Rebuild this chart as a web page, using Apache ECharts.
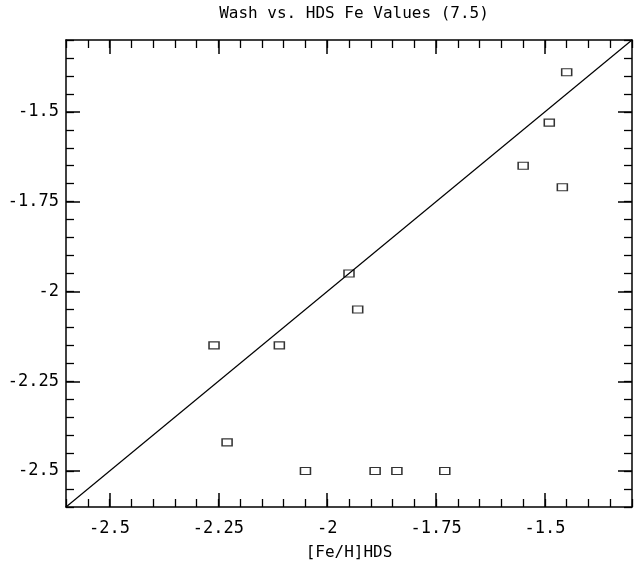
<!DOCTYPE html>
<html>
<head>
<meta charset="utf-8">
<script src="https://cdn.jsdelivr.net/npm/echarts@6/dist/echarts.min.js"></script>
<style>
html,body{margin:0;padding:0;background:#fff;}
#chart{width:634px;height:566px;}
</style>
</head>
<body>
<div id="chart"></div>
<script>
var titleText = 'Wash vs. HDS Fe Values (7.5)';
var xName = '[Fe/H]HDS';
var hdsFe = [-1.45, -1.49, -1.55, -1.46, -1.95, -1.93, -2.26, -2.11, -2.23, -2.05, -1.89, -1.84, -1.73];
var washFe = [-1.39, -1.53, -1.65, -1.71, -1.95, -2.05, -2.15, -2.15, -2.42, -2.50, -2.50, -2.50, -2.50];
var lineX = [-2.6, -1.3];
var lineY = [-2.6, -1.3];
var xMajor = [-2.5, -2.25, -2, -1.75, -1.5];
var xMajorLabels = ['-2.5', '-2.25', '-2', '-1.75', '-1.5'];
var yMajor = [-2.5, -2.25, -2, -1.75, -1.5];
var yMajorLabels = ['-2.5', '-2.25', '-2', '-1.75', '-1.5'];
var axisMin = -2.6, axisMax = -1.3, minorStep = 0.05;

var FONT = 'DejaVu Sans Mono';
var points = hdsFe.map(function (x, i) { return [x, washFe[i]]; });
var diag = lineX.map(function (x, i) { return [x, lineY[i]]; });

function labelOf(vals, labels) {
  return function (v) {
    for (var i = 0; i < vals.length; i++) { if (Math.abs(vals[i] - v) < 1e-6) return labels[i]; }
    return '';
  };
}

function minorAxis(pos) {
  return {
    type: 'value', position: pos, min: axisMin, max: axisMax, interval: minorStep,
    axisLine: { show: true, lineStyle: { color: '#000', width: 1.5 } },
    axisTick: { show: true, inside: true, length: 8, lineStyle: { color: '#000', width: 1.3 } },
    axisLabel: { show: false },
    splitLine: { show: false }
  };
}
function majorAxis(pos, vals, labels, showLabel, extra) {
  var a = {
    type: 'value', position: pos, min: axisMin, max: axisMax,
    axisLine: { show: false },
    axisTick: { show: true, inside: true, length: 14, customValues: vals, lineStyle: { color: '#000', width: 1.5 } },
    axisLabel: { show: showLabel, customValues: vals, formatter: labelOf(vals, labels),
      color: '#000', fontFamily: FONT, fontSize: 17 },
    splitLine: { show: false }
  };
  if (extra) for (var k in extra) a[k] = extra[k];
  return a;
}

var chart = echarts.init(document.getElementById('chart'), null, { renderer: 'canvas' });
var xm = majorAxis('bottom', xMajor, xMajorLabels, true, {
  name: xName, nameLocation: 'middle', nameGap: 38,
  nameTextStyle: { color: '#000', fontFamily: FONT, fontSize: 16 }
});
xm.axisLabel.margin = 13;
var ym = majorAxis('left', yMajor, yMajorLabels, true);
ym.axisLabel.margin = 7;

chart.setOption({
  animation: false,
  backgroundColor: '#fff',
  title: {
    text: titleText, left: 349, top: 1, textAlign: 'center',
    textStyle: { color: '#000', fontFamily: FONT, fontSize: 16, fontWeight: 'normal' }
  },
  grid: { left: 66, right: 2, top: 40, bottom: 54, containLabel: false },
  xAxis: [minorAxis('bottom'), xm, minorAxis('top'), majorAxis('top', xMajor, xMajorLabels, false)],
  yAxis: [minorAxis('left'), ym, minorAxis('right'), majorAxis('right', yMajor, yMajorLabels, false)],
  series: [
    {
      type: 'line', data: diag, xAxisIndex: 1, yAxisIndex: 1,
      symbol: 'none', lineStyle: { color: '#000', width: 1.2 }, silent: true
    },
    {
      type: 'scatter', data: points, xAxisIndex: 1, yAxisIndex: 1,
      symbol: 'rect', symbolSize: [10, 7],
      itemStyle: { color: 'rgba(0,0,0,0)', borderColor: '#000', borderWidth: 1.3 }
    }
  ]
});
</script>
</body>
</html>
